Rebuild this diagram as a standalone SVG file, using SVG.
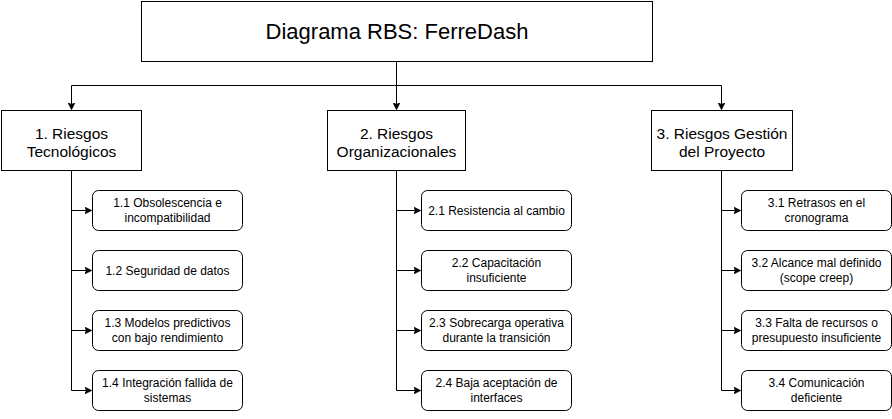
<svg xmlns="http://www.w3.org/2000/svg" width="892" height="419" viewBox="0 0 892 419">
<style>
.box{fill:#fff;stroke:#000;stroke-width:1}
.t{font-family:"Liberation Sans",Arial,sans-serif;fill:#000;text-anchor:middle}
.title{font-size:22px}
.cat{font-size:15.5px}
.ch{font-size:12px}
.edge{fill:none;stroke:#000;stroke-width:1}
</style>
<defs>
<marker id="arr" viewBox="0 0 10 10" refX="9" refY="5" markerWidth="7" markerHeight="7" markerUnits="userSpaceOnUse" orient="auto">
<path d="M0,0 L10,5 L0,10 L2.5,5 Z" fill="#000" stroke="#000" stroke-width="1"/>
</marker>
</defs>
<rect width="892" height="419" fill="#fff"/>
<g id="connectors">
<path class="edge" d="M396.5,62 V85.5 H71.5 V109" marker-end="url(#arr)"/>
<path class="edge" d="M396.5,62 V109" marker-end="url(#arr)"/>
<path class="edge" d="M396.5,62 V85.5 H721.5 V109" marker-end="url(#arr)"/>
<path class="edge" d="M71.5,170 V210.5 H91" marker-end="url(#arr)"/>
<path class="edge" d="M71.5,170 V270.5 H91" marker-end="url(#arr)"/>
<path class="edge" d="M71.5,170 V330.5 H91" marker-end="url(#arr)"/>
<path class="edge" d="M71.5,170 V390.5 H91" marker-end="url(#arr)"/>
<path class="edge" d="M396.5,170 V210.5 H420" marker-end="url(#arr)"/>
<path class="edge" d="M396.5,170 V270.5 H420" marker-end="url(#arr)"/>
<path class="edge" d="M396.5,170 V330.5 H420" marker-end="url(#arr)"/>
<path class="edge" d="M396.5,170 V390.5 H420" marker-end="url(#arr)"/>
<path class="edge" d="M721.5,170 V210.5 H740" marker-end="url(#arr)"/>
<path class="edge" d="M721.5,170 V270.5 H740" marker-end="url(#arr)"/>
<path class="edge" d="M721.5,170 V330.5 H740" marker-end="url(#arr)"/>
<path class="edge" d="M721.5,170 V390.5 H740" marker-end="url(#arr)"/>
</g>
<g id="root">
<rect class="box" x="141.5" y="1.5" width="511" height="60"/>
<text class="t title" x="397" y="39">Diagrama RBS: FerreDash</text>
</g>
<g id="cat1">
<rect class="box" x="1.5" y="110.5" width="140" height="60"/>
<text class="t cat" x="71.5" y="138.5">1. Riesgos</text>
<text class="t cat" x="71.5" y="156.5">Tecnológicos</text>
</g>
<g id="cat2">
<rect class="box" x="327.5" y="110.5" width="138" height="60"/>
<text class="t cat" x="396.5" y="138.5">2. Riesgos</text>
<text class="t cat" x="396.5" y="156.5">Organizacionales</text>
</g>
<g id="cat3">
<rect class="box" x="651.5" y="110.5" width="141" height="60"/>
<text class="t cat" x="722" y="138.5">3. Riesgos Gestión</text>
<text class="t cat" x="722" y="156.5">del Proyecto</text>
</g>
<g id="n11"><rect class="box" x="92.5" y="190.5" width="150" height="40" rx="6"/>
<text class="t ch" x="167.5" y="207">1.1 Obsolescencia e</text><text class="t ch" x="167.5" y="222">incompatibilidad</text></g>
<g id="n12"><rect class="box" x="92.5" y="250.5" width="150" height="40" rx="6"/>
<text class="t ch" x="167.5" y="275">1.2 Seguridad de datos</text></g>
<g id="n13"><rect class="box" x="92.5" y="310.5" width="150" height="40" rx="6"/>
<text class="t ch" x="167.5" y="327">1.3 Modelos predictivos</text><text class="t ch" x="167.5" y="342">con bajo rendimiento</text></g>
<g id="n14"><rect class="box" x="92.5" y="370.5" width="150" height="40" rx="6"/>
<text class="t ch" x="167.5" y="387">1.4 Integración fallida de</text><text class="t ch" x="167.5" y="402">sistemas</text></g>
<g id="n21"><rect class="box" x="421.5" y="190.5" width="150" height="40" rx="6"/>
<text class="t ch" x="496.5" y="215">2.1 Resistencia al cambio</text></g>
<g id="n22"><rect class="box" x="421.5" y="250.5" width="150" height="40" rx="6"/>
<text class="t ch" x="496.5" y="267">2.2 Capacitación</text><text class="t ch" x="496.5" y="282">insuficiente</text></g>
<g id="n23"><rect class="box" x="421.5" y="310.5" width="150" height="40" rx="6"/>
<text class="t ch" x="496.5" y="327">2.3 Sobrecarga operativa</text><text class="t ch" x="496.5" y="342">durante la transición</text></g>
<g id="n24"><rect class="box" x="421.5" y="370.5" width="150" height="40" rx="6"/>
<text class="t ch" x="496.5" y="387">2.4 Baja aceptación de</text><text class="t ch" x="496.5" y="402">interfaces</text></g>
<g id="n31"><rect class="box" x="741.5" y="190.5" width="150" height="40" rx="6"/>
<text class="t ch" x="816.5" y="207">3.1 Retrasos en el</text><text class="t ch" x="816.5" y="222">cronograma</text></g>
<g id="n32"><rect class="box" x="741.5" y="250.5" width="150" height="40" rx="6"/>
<text class="t ch" x="816.5" y="267">3.2 Alcance mal definido</text><text class="t ch" x="816.5" y="282">(scope creep)</text></g>
<g id="n33"><rect class="box" x="741.5" y="310.5" width="150" height="40" rx="6"/>
<text class="t ch" x="816.5" y="327">3.3 Falta de recursos o</text><text class="t ch" x="816.5" y="342">presupuesto insuficiente</text></g>
<g id="n34"><rect class="box" x="741.5" y="370.5" width="150" height="40" rx="6"/>
<text class="t ch" x="816.5" y="387">3.4 Comunicación</text><text class="t ch" x="816.5" y="402">deficiente</text></g>
</svg>
